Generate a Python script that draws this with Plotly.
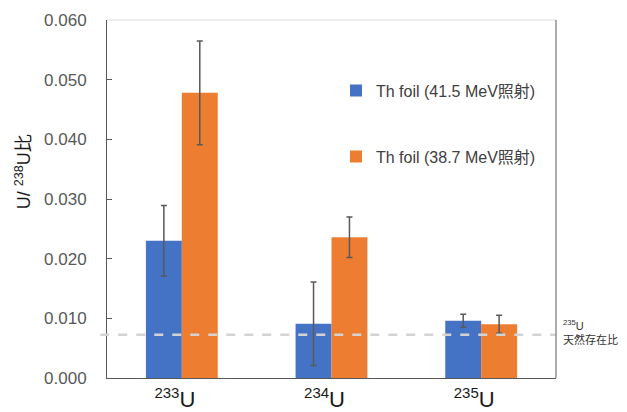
import plotly.graph_objects as go

categories = ["233", "234", "235"]
series_names = ["Th foil (41.5 MeV照射)", "Th foil (38.7 MeV照射)"]
blue_values = [0.0230, 0.0091, 0.0096]
blue_errors = [0.0059, 0.0070, 0.0011]
orange_values = [0.0478, 0.0236, 0.0090]
orange_errors = [0.0087, 0.0034, 0.0015]
natural_ratio = 0.00725
y_ticks = [0.0, 0.01, 0.02, 0.03, 0.04, 0.05, 0.06]
tick_labels = ["<sup><span style='font-size:15px'>%s</span></sup>U" % c for c in categories]
y_title = "U/ <sup>238</sup>U比"

FONT = "Liberation Sans, Arial, Noto Sans CJK JP, sans-serif"
err_color = "#595959"

fig = go.Figure()
fig.add_trace(go.Bar(
    x=categories, y=blue_values, name=series_names[0], legendgroup="a",
    marker=dict(color="#4472C4", line=dict(width=0)),
    error_y=dict(type="data", array=blue_errors, color=err_color, thickness=1.5, width=3),
))
fig.add_trace(go.Bar(
    x=categories, y=orange_values, name=series_names[1], legendgroup="b",
    marker=dict(color="#ED7D31", line=dict(width=0)),
    error_y=dict(type="data", array=orange_errors, color=err_color, thickness=1.5, width=3),
))

fig.add_shape(type="line", xref="paper", yref="y", x0=-0.015, x1=1, y0=natural_ratio, y1=natural_ratio,
              line=dict(color="#D3D3D3", width=2.5, dash="dash"), layer="above")
fig.add_shape(type="line", xref="paper", yref="paper", x0=0, x1=1, y0=1, y1=1,
              line=dict(color="#D9D9D9", width=1))
fig.add_shape(type="line", xref="paper", yref="paper", x0=1, x1=1, y0=0, y1=1,
              line=dict(color="#595959", width=1))

fig.add_annotation(xref="paper", yref="y", x=1.012, y=natural_ratio, xanchor="left", yanchor="middle",
                   yshift=3,
                   text="<sup>235</sup>U<br>天然存在比", showarrow=False, align="left",
                   font=dict(family=FONT, size=11, color="#333333"))

fig.add_annotation(xref="paper", yref="paper", x=-0.187, y=0.575, xanchor="center", yanchor="middle",
                   text=y_title, textangle=-90, showarrow=False,
                   font=dict(family=FONT, size=18, color="#1a1a1a"))

fig.update_layout(
    width=627, height=412,
    margin=dict(l=107, r=71, t=20, b=34),
    paper_bgcolor="white", plot_bgcolor="white",
    barmode="group", bargap=0.52, bargroupgap=0,
    font=dict(family=FONT, color="#595959"),
    showlegend=True,
    legend=dict(x=0.51, y=0.85, xanchor="left", yanchor="top", traceorder="grouped",
                tracegroupgap=42, bgcolor="rgba(0,0,0,0)",
                font=dict(family=FONT, size=16, color="#404040")),
    xaxis=dict(showline=True, linecolor="#595959", linewidth=1, ticks="", automargin=False,
               tickvals=categories, ticktext=tick_labels, ticklabelstandoff=2, ticklabelshift=-7,
               tickfont=dict(family=FONT, size=22, color="#1a1a1a"), range=[-0.5, 2.5]),
    yaxis=dict(range=[0, 0.06], tickvals=y_ticks, tickformat=".3f", showgrid=False, zeroline=False,
               automargin=False,
               showline=True, linecolor="#595959", linewidth=1, ticks="inside", ticklen=5,
               tickcolor="#595959", ticklabelstandoff=16,
               tickfont=dict(family=FONT, size=17, color="#595959")),
)

fig.write_html("out.html")
